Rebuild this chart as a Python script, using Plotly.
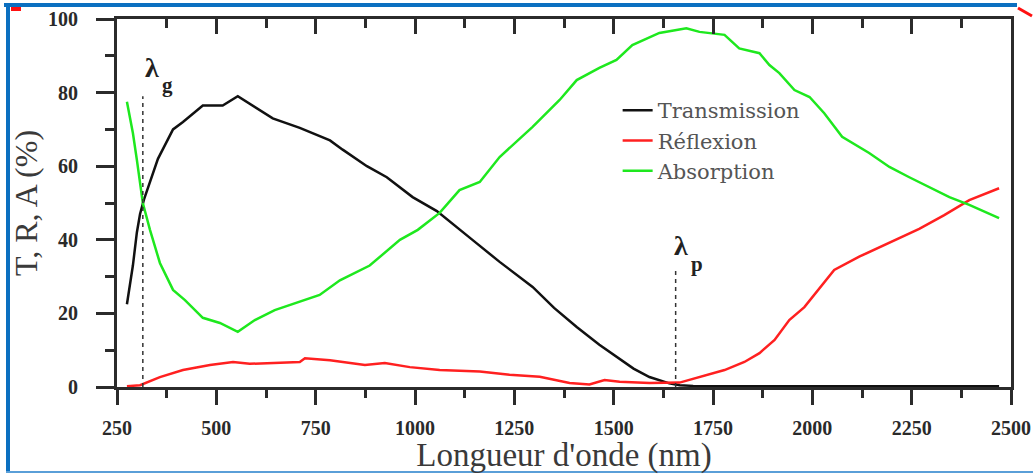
import plotly.graph_objects as go

# ---- data ----
wl_T = [275, 290, 300, 308, 318, 340, 353, 391, 416, 466, 516, 554, 597, 642, 710, 786, 818, 879, 929, 994,
        1055, 1112, 1150, 1213, 1296, 1350, 1407, 1464, 1507, 1550, 1590, 1640, 1666, 1700, 1800, 2000, 2200, 2470]
T = [22.5, 33, 42, 47, 51, 58, 62, 70, 72, 76.5, 76.5, 79, 76, 73, 70.4, 67, 64.5, 60, 57, 51.6,
     47.8, 42.7, 39.5, 34, 27.2, 21.5, 16.3, 11.5, 8.2, 5, 2.7, 1, 0.5, 0.3, 0.2, 0.2, 0.2, 0.2]

wl_R = [275, 308, 358, 416, 484, 542, 584, 660, 710, 723, 786, 874, 924, 987, 1062, 1163, 1238, 1314, 1389, 1439,
        1477, 1515, 1590, 1666, 1716, 1779, 1829, 1867, 1905, 1942, 1980, 2018, 2055, 2118, 2181, 2219, 2269, 2332,
        2395, 2470]
R = [0.2, 0.5, 2.7, 4.6, 6, 6.8, 6.3, 6.6, 6.8, 7.8, 7.3, 6, 6.5, 5.4, 4.6, 4.2, 3.3, 2.8, 1.1, 0.7,
     1.9, 1.4, 1.1, 1.2, 2.7, 4.6, 6.8, 9.2, 12.8, 18.2, 21.7, 26.9, 31.8, 35.4, 38.6, 40.5, 43, 46.7,
     50.8, 54]

wl_A = [275, 290, 300, 315, 333, 358, 391, 421, 466, 509, 554, 597, 647, 710, 760, 811, 886, 962, 1007, 1062,
        1112, 1163, 1213, 1296, 1364, 1407, 1464, 1507, 1547, 1615, 1683, 1716, 1779, 1816, 1867, 1892, 1917,
        1955, 1993, 2030, 2075, 2143, 2194, 2244, 2294, 2345, 2395, 2470]
A = [77.5, 69, 61.7, 50, 42.7, 33.7, 26.4, 23.6, 18.8, 17.4, 15, 18.2, 20.9, 23.1, 25, 29, 33, 40, 42.7, 47.3,
     53.5, 55.7, 62.5, 70.7, 78, 83.4, 86.7, 88.9, 92.9, 96.2, 97.5, 96.5, 95.7, 92, 90.7, 87.5, 85.3,
     80.7, 78.8, 74.4, 68, 63.6, 59.8, 57, 54.3, 51.6, 49.5, 45.9]

series_names = ["Transmission", "Réflexion", "Absorption"]
series_colors = ["#111111", "#ff2020", "#1ee81e"]

lambda_g = 315      # nm
lambda_g_top = 79   # %
lambda_p = 1656     # nm
lambda_p_top = 32   # %

x_ticks = [250, 500, 750, 1000, 1250, 1500, 1750, 2000, 2250, 2500]
y_ticks = [0, 20, 40, 60, 80, 100]

AX = "#2b2b2b"
SERIF = "Liberation Serif, Times New Roman, serif"

fig = go.Figure()
for xs, ys, name, col in zip([wl_T, wl_R, wl_A], [T, R, A], series_names, series_colors):
    fig.add_trace(go.Scatter(x=xs, y=ys, mode="lines", name=name,
                             line=dict(color=col, width=2.5)))

# dashed markers for lambda_g and lambda_p (on overlay top axis)
for lx, ly in [(lambda_g, lambda_g_top), (lambda_p, lambda_p_top)]:
    fig.add_trace(go.Scatter(x=[lx, lx], y=[0, ly], mode="lines", xaxis="x2", showlegend=False,
                             hoverinfo="skip", line=dict(color="#333333", width=1.5, dash="4px,4px")))

# lambda labels: main symbol + separate subscript
lab_font = dict(family=SERIF, size=28, color="#222", weight="bold")
sub_font = dict(family=SERIF, size=21, color="#222", weight="bold")
for lx, ly, sub, ms, ss in [(lambda_g, lambda_g_top, "g", (9, 29), (25, 11)),
                            (lambda_p, lambda_p_top, "p", (5, 24), (21, 5))]:
    fig.add_annotation(x=lx, y=ly, xref="x", yref="y", text="λ", showarrow=False,
                       xanchor="center", yanchor="middle", xshift=ms[0], yshift=ms[1], font=lab_font)
    fig.add_annotation(x=lx, y=ly, xref="x", yref="y", text=sub, showarrow=False,
                       xanchor="center", yanchor="middle", xshift=ss[0], yshift=ss[1], font=sub_font)

tickfont = dict(family=SERIF, size=20, color="#2a2a2a", weight="bold")

fig.update_layout(
    width=1033, height=474,
    margin=dict(l=117, r=22, t=19, b=87),
    paper_bgcolor="white", plot_bgcolor="white",
    showlegend=True,
    legend=dict(x=0.560, y=0.807, xanchor="left", yanchor="top", bgcolor="rgba(0,0,0,0)",
                font=dict(family="DejaVu Serif, serif", size=21, color="#555555"),
                tracegroupgap=0, itemwidth=30),
    xaxis=dict(range=[250, 2500], tickvals=x_ticks, ticktext=[str(v) for v in x_ticks], automargin=False,
               showgrid=False, zeroline=False, showline=True, linecolor=AX, linewidth=3, mirror=True,
               ticks="outside", ticklen=15, tickwidth=3, tickcolor=AX, tickfont=tickfont,
               ticklabelstandoff=6,
               minor=dict(dtick=125, tick0=250, ticks="outside", ticklen=8, tickwidth=3, tickcolor=AX),
               title=dict(text="Longueur d'onde (nm)", font=dict(family=SERIF, size=33, color="#3a3a3a"),
                          standoff=6)),
    xaxis2=dict(matches="x", overlaying="x", side="top", range=[250, 2500], tickvals=x_ticks, automargin=False,
                showticklabels=False, showgrid=False, zeroline=False, showline=False,
                ticks="inside", ticklen=15, tickwidth=3, tickcolor=AX,
                minor=dict(dtick=125, tick0=250, ticks="inside", ticklen=9, tickwidth=3, tickcolor=AX)),
    yaxis=dict(range=[0, 100], tickvals=y_ticks, showgrid=False, zeroline=False, showline=True, automargin=False,
               linecolor=AX, linewidth=3, mirror=True,
               ticks="outside", ticklen=18, tickwidth=3, tickcolor=AX, tickfont=tickfont,
               ticklabelstandoff=14,
               minor=dict(dtick=10, tick0=0, ticks="outside", ticklen=9, tickwidth=3, tickcolor=AX),
               title=dict(text="T, R, A (%)", font=dict(family=SERIF, size=32, color="#3a3a3a"),
                          standoff=1)),
)

# blue frame of the screenshot (paper coords)
def px_x(p):
    return (p - 117) / 894.0

def px_y(p):
    return (387 - p) / 368.0

BLUE = "#0b6fc0"
fig.add_shape(type="rect", xref="paper", yref="paper", x0=px_x(4), x1=px_x(1017), y0=px_y(7), y1=px_y(3),
              fillcolor=BLUE, line=dict(width=0))
fig.add_shape(type="rect", xref="paper", yref="paper", x0=px_x(6), x1=px_x(10), y0=px_y(473), y1=px_y(3),
              fillcolor=BLUE, line=dict(width=0))
fig.add_shape(type="rect", xref="paper", yref="paper", x0=px_x(6), x1=px_x(1033), y0=px_y(473), y1=px_y(471),
              fillcolor="#5a9fd8", line=dict(width=0))
# red corner artefacts
fig.add_shape(type="line", xref="paper", yref="paper", x0=px_x(11), x1=px_x(21), y0=px_y(9), y1=px_y(9),
              line=dict(color="#ff1010", width=4))
fig.add_shape(type="line", xref="paper", yref="paper", x0=px_x(1018), x1=px_x(1032), y0=px_y(8), y1=px_y(16),
              line=dict(color="#ff1010", width=3))

fig.write_html("out.html")
